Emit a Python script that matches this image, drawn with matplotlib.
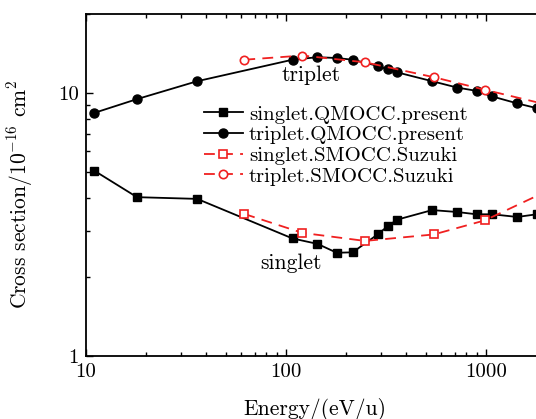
import matplotlib
matplotlib.use("Agg")
import matplotlib.pyplot as plt
from matplotlib.ticker import FixedLocator, FixedFormatter, LogLocator, NullFormatter

plt.rcParams['font.family'] = ['cmr10', 'DejaVu Serif']
plt.rcParams['mathtext.fontset'] = 'cm'
plt.rcParams['axes.formatter.use_mathtext'] = True
plt.rcParams['font.size'] = 15

# QMOCC present
E_q = [11, 18, 36, 108, 144, 180, 216, 288, 324, 360, 540, 720, 900, 1080, 1440, 1800]
singlet_q = [5.07, 4.02, 3.96, 2.80, 2.67, 2.47, 2.48, 2.90, 3.12, 3.30, 3.59, 3.53, 3.46, 3.46, 3.38, 3.46]
triplet_q = [8.41, 9.49, 11.1, 13.4, 13.7, 13.6, 13.4, 12.7, 12.3, 12.0, 11.1, 10.5, 10.2, 9.71, 9.14, 8.77]

# SMOCC Suzuki
E_s = [62, 121, 249, 550, 990, 2000]
singlet_s = [3.47, 2.94, 2.74, 2.90, 3.28, 4.22]
triplet_s = [13.4, 13.9, 13.1, 11.5, 10.3, 9.06]

labels = ['singlet.QMOCC.present', 'triplet.QMOCC.present',
          'singlet.SMOCC.Suzuki', 'triplet.SMOCC.Suzuki']
x_ticks = [10, 100, 1000]
x_ticklabels = ['10', '100', '1000']
y_ticks = [1, 10]
y_ticklabels = ['1', '10']

fig = plt.figure(figsize=(5.36, 4.19), dpi=100)
ax = fig.add_axes([86/536, 63/419, 495/536, 342/419])

red = '#f02020'
ax.plot(E_q, singlet_q, '-s', color='black', lw=1.3, ms=6, label=labels[0])
ax.plot(E_q, triplet_q, '-o', color='black', lw=1.3, ms=6.5, label=labels[1])
ax.plot(E_s, singlet_s, '--s', color=red, lw=1.3, ms=5.5, mfc='white', mew=1.2,
        dashes=(6, 4), label=labels[2])
ax.plot(E_s, triplet_s, '--o', color=red, lw=1.3, ms=6, mfc='white', mew=1.2,
        dashes=(6, 4), label=labels[3])

ax.set_xscale('log')
ax.set_yscale('log')
ax.set_xlim(10, 3000)
ax.set_ylim(1, 20)

ax.xaxis.set_major_locator(FixedLocator(x_ticks))
ax.xaxis.set_major_formatter(FixedFormatter(x_ticklabels))
ax.xaxis.set_minor_locator(LogLocator(base=10, subs=range(2, 10)))
ax.xaxis.set_minor_formatter(NullFormatter())
ax.yaxis.set_major_locator(FixedLocator(y_ticks))
ax.yaxis.set_major_formatter(FixedFormatter(y_ticklabels))
ax.yaxis.set_minor_locator(LogLocator(base=10, subs=range(2, 10)))
ax.yaxis.set_minor_formatter(NullFormatter())

ax.tick_params(which='both', direction='in', top=True, right=True, width=1.0)
ax.tick_params(which='major', length=5, pad=5, labelsize=15)
ax.tick_params(which='minor', length=3)
for s in ax.spines.values():
    s.set_linewidth(1.3)

ax.set_xlabel('Energy/(eV/u)', fontsize=15.5)
ax.set_ylabel('Cross section/10$^{-16}$ cm$^{2}$', fontsize=15.5)
ax.xaxis.label.set_va('center')
ax.yaxis.label.set_va('center')
ax.xaxis.set_label_coords((315 - 86) / 495, (356 - 409) / 342)
ax.yaxis.set_label_coords((20 - 86) / 495, (356 - 194) / 342)

ax.text(134.5, 11.65, 'triplet', ha='center', va='center', fontsize=15.5)
ax.text(106, 2.26, 'singlet', ha='center', va='center', fontsize=15.5)

ax.legend(loc='upper left', bbox_to_anchor=((204 - 86) / 495, (356 - 105) / 342),
          frameon=False, handlelength=1.85, handletextpad=0.3, labelspacing=0.1,
          borderaxespad=0, borderpad=0, fontsize=15)

fig.savefig('out.png', dpi=100)
